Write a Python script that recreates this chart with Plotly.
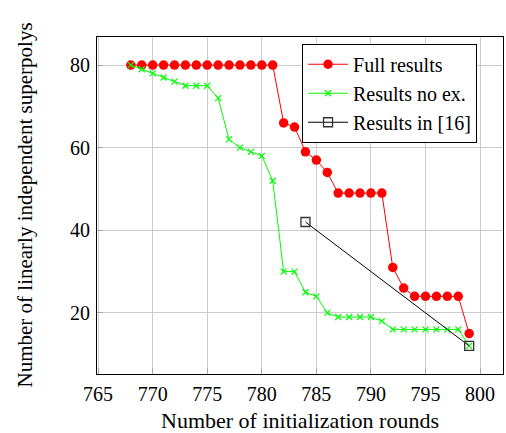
import plotly.graph_objects as go

rounds_full = list(range(768, 800))
full_results = [80]*14 + [66, 65, 59, 57, 54, 49, 49, 49, 49, 49, 31, 26, 24, 24, 24, 24, 24, 15]
rounds_noex = list(range(768, 800))
noex_results = [80, 79, 78, 77, 76, 75, 75, 75, 72, 62, 60, 59, 58, 52, 30, 30, 25, 24, 20,
                19, 19, 19, 19, 18, 16, 16, 16, 16, 16, 16, 16, 12]
rounds_ref = [784, 799]
ref_results = [42, 12]

x_ticks = [765, 770, 775, 780, 785, 790, 795, 800]
y_ticks = [20, 40, 60, 80]

FONT = "Liberation Serif"

fig = go.Figure()
fig.add_trace(go.Scatter(x=rounds_full, y=full_results, mode="lines+markers", name="Full results",
                         line=dict(color="#ff0000", width=1),
                         marker=dict(symbol="circle", size=9.5, color="#ff0000")))
fig.add_trace(go.Scatter(x=rounds_noex, y=noex_results, mode="lines+markers", name="Results no ex.",
                         line=dict(color="#00ff00", width=1),
                         marker=dict(symbol="x-thin", size=6, color="#00ff00",
                                     line=dict(color="#00ff00", width=1.2))))
fig.add_trace(go.Scatter(x=rounds_ref, y=ref_results, mode="lines+markers", name="Results in [16]",
                         line=dict(color="black", width=1),
                         marker=dict(symbol="square-open", size=9, color="#333333",
                                     line=dict(width=1.3))))

axis_common = dict(showline=True, linecolor="black", linewidth=1.2, mirror=True,
                   showgrid=True, gridcolor="#cccccc", gridwidth=1,
                   ticks="inside", ticklen=6, tickcolor="#aaaaaa", zeroline=False,
                   automargin=False,
                   tickfont=dict(family=FONT, size=20, color="black"))

fig.update_xaxes(range=[764.9, 802.1], tickvals=x_ticks, ticktext=[str(v) for v in x_ticks],
                 ticklabelstandoff=2, **axis_common)
fig.update_yaxes(range=[5.2, 86.8], tickvals=y_ticks, ticktext=[str(v) for v in y_ticks],
                 ticklabelstandoff=2, **axis_common)

fig.add_annotation(text="Number of initialization rounds", xref="paper", yref="paper",
                   x=0.5, y=0, xanchor="center", yanchor="middle", yshift=-46, showarrow=False,
                   font=dict(family=FONT, size=22, color="black"))
fig.add_annotation(text="Number of linearly independent superpolys", xref="paper", yref="paper",
                   x=0, y=0.5, xanchor="center", yanchor="middle", xshift=-73, textangle=-90,
                   showarrow=False, font=dict(family=FONT, size=21, color="black"))

fig.update_layout(width=506, height=433, margin=dict(l=97, r=3, t=37, b=59),
                  plot_bgcolor="white", paper_bgcolor="white",
                  font=dict(family=FONT, size=20, color="black"),
                  legend=dict(x=0.505, y=0.98, xanchor="left", yanchor="top",
                              bgcolor="white", bordercolor="black", borderwidth=1,
                              font=dict(family=FONT, size=20, color="black"),
                              tracegroupgap=0, itemwidth=40))

fig.write_html("out.html", config={"displayModeBar": False},
               post_script="document.body.style.margin='0';document.body.style.overflow='hidden';")
